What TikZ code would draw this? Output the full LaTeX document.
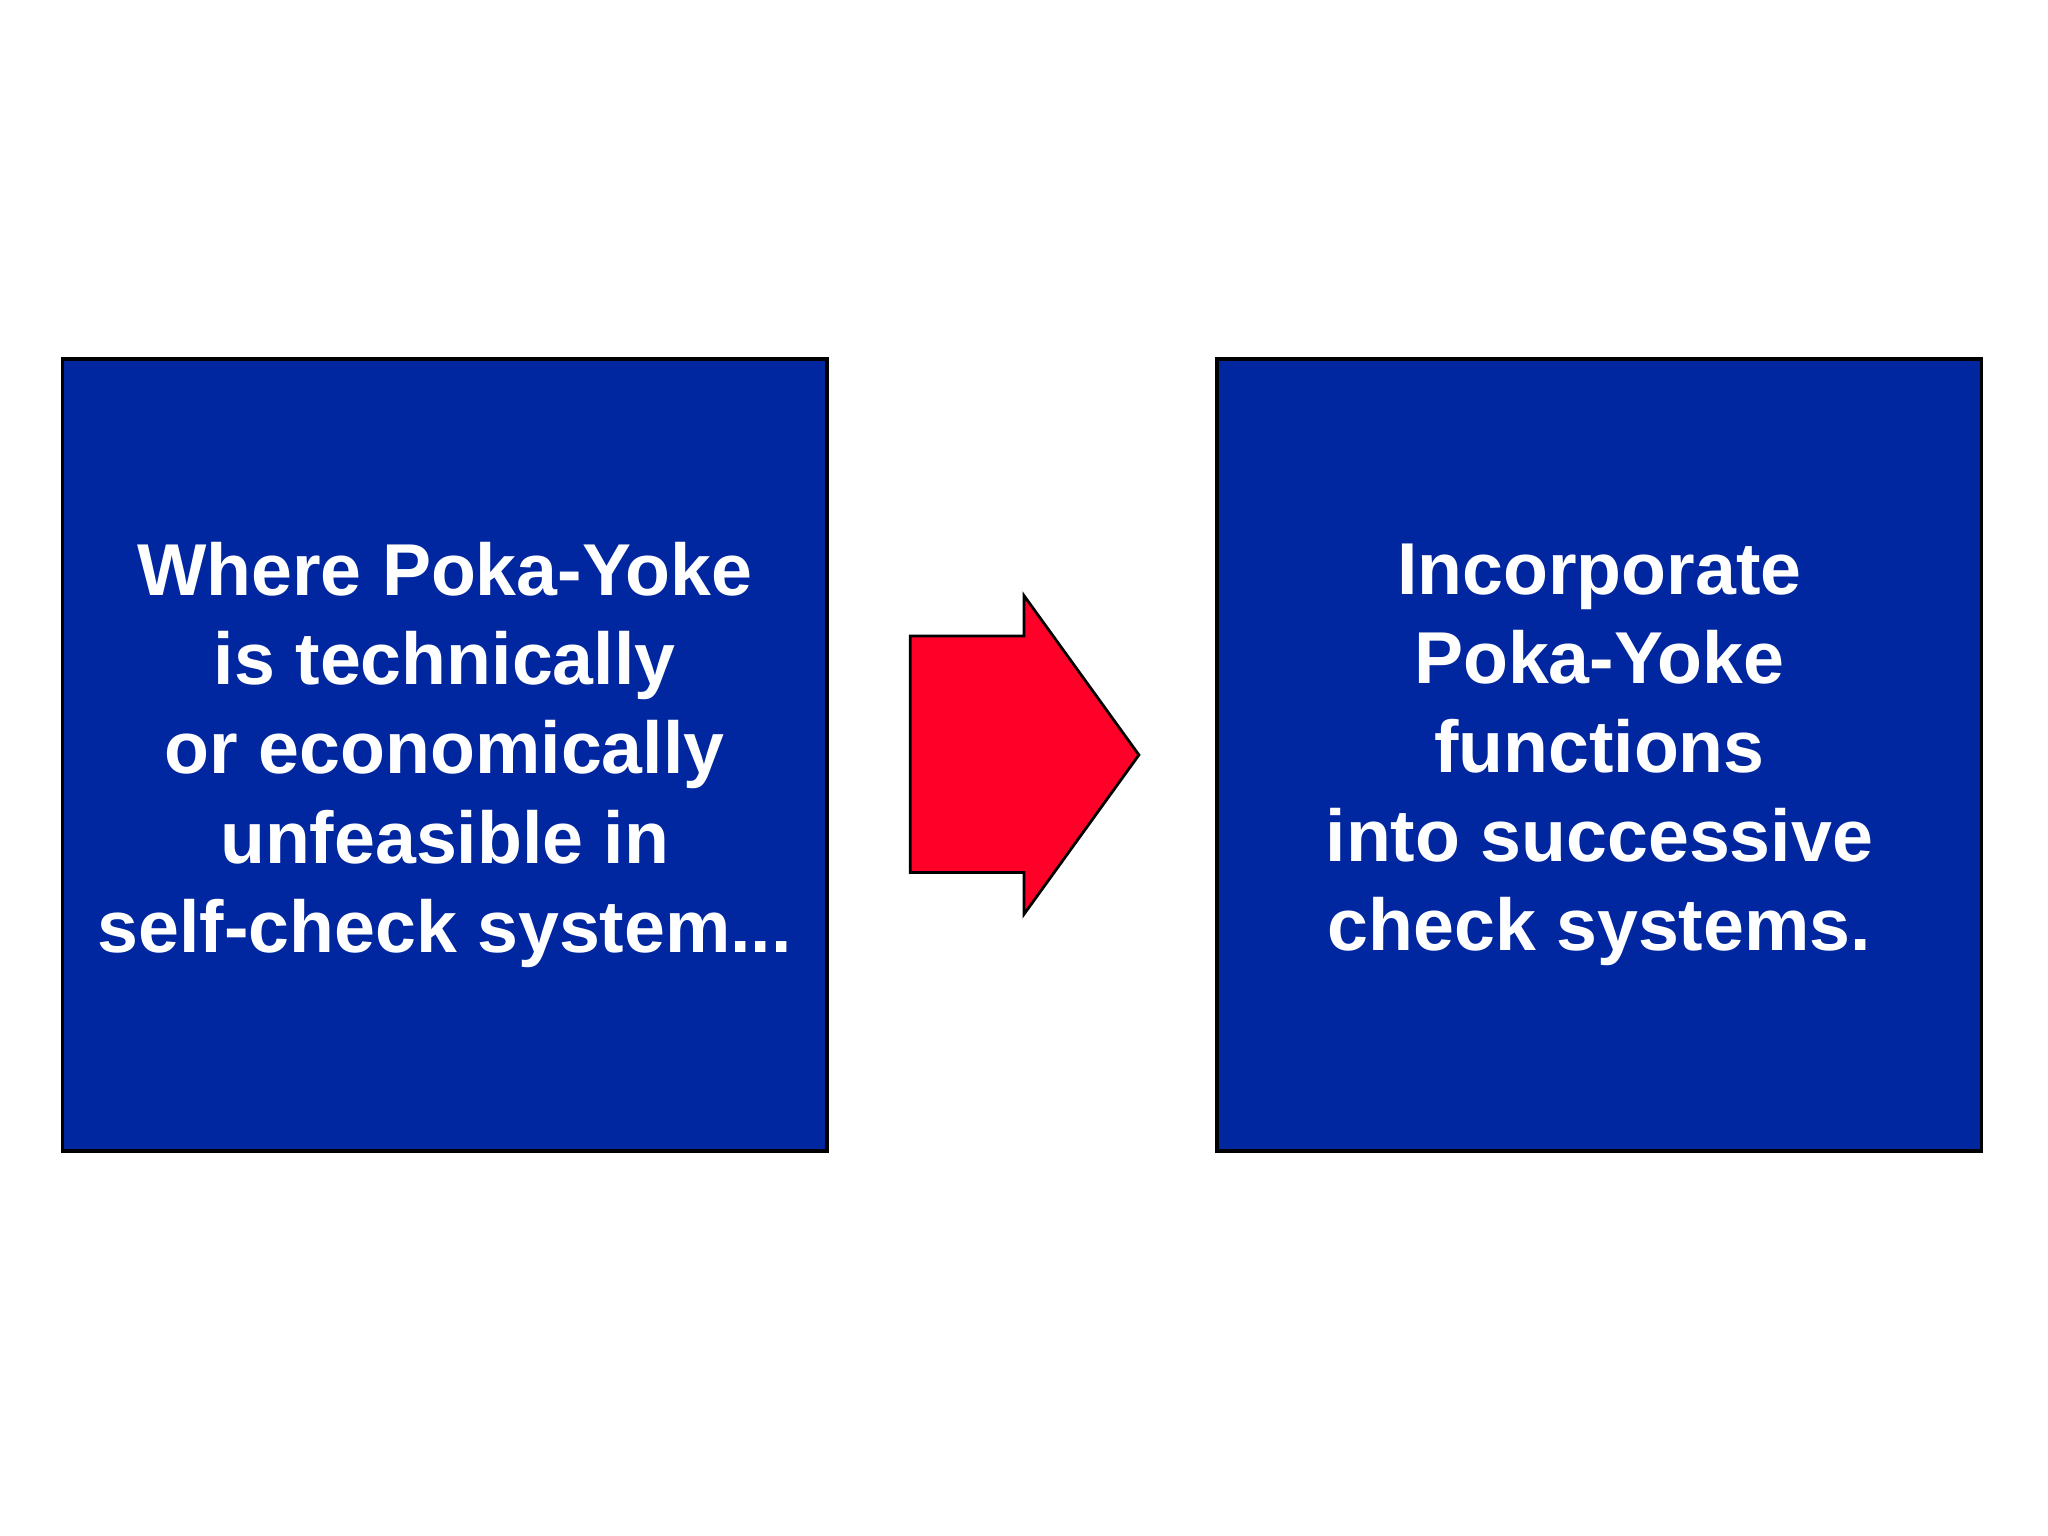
\documentclass[tikz,border=0pt]{standalone}
\usepackage{fontspec}
\setmainfont{Liberation Sans}
\definecolor{boxblue}{HTML}{0026A0}
\definecolor{arrred}{HTML}{FF0028}
\begin{document}
\begin{tikzpicture}[x=0.01cm,y=-0.01cm,
  bluebox/.style={draw=black,line width=0.8pt,fill=boxblue,minimum width=5.85cm,minimum height=6.06cm,inner sep=0pt,
    text=white,font=\bfseries\fontsize{16pt}{19.4pt}\selectfont,align=center}]
\useasboundingbox (0,0) rectangle (1568,1176);
\node[bluebox] (L) at (340.5,578) {Where Poka-Yoke\\is technically\\or economically\\unfeasible in\\self-check system...};
\node[bluebox] (R) at (1224.5,578) {Incorporate\\Poka-Yoke\\functions\\into successive\\check systems.};
\draw[fill=arrred,draw=black,line width=0.6pt,line join=miter]
  (697,487) -- (784,487) -- (784,456) -- (872,578) -- (784,700) -- (784,668) -- (697,668) -- cycle;
\end{tikzpicture}
\end{document}
